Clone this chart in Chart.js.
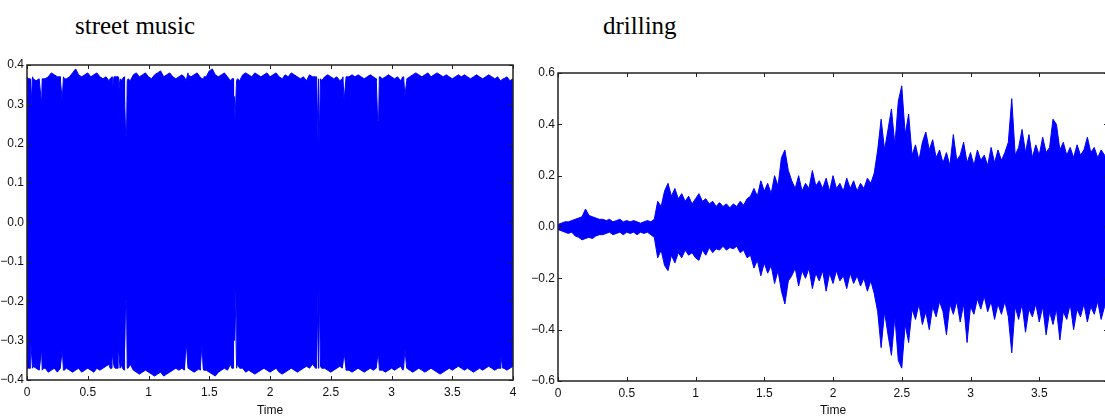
<!DOCTYPE html>
<html>
<head>
<meta charset="utf-8">
<title>street music / drilling</title>
<script src="https://cdn.jsdelivr.net/npm/chart.js@4.4.1/dist/chart.umd.min.js"></script>
<style>
    html, body {
        margin: 0;
        padding: 0;
        background: #fff;
        width: 1105px;
        height: 420px;
        overflow: hidden;
        position: relative;
    }
    .plot-title {
        position: absolute;
        top: 12px;
        font-family: 'Liberation Serif', 'DejaVu Serif', serif;
        font-size: 25px;
        color: #000;
        white-space: nowrap;
    }
    canvas {
        position: absolute;
        top: 50px;
    }
</style>
</head>
<body>
<div class="plot-title" style="left: 75px;">street music</div>
<div class="plot-title" style="left: 603px;">drilling</div>
<canvas id="streetChart" width="540" height="370" style="left: 0px;"></canvas>
<canvas id="drillingChart" width="630" height="370" style="left: 520px;"></canvas>

<script>
// Sample times (seconds), shared by both waveforms
const times = [
    0, 0.025, 0.05, 0.075, 0.1, 0.125, 0.15, 0.175, 0.2, 0.225,
    0.25, 0.275, 0.3, 0.325, 0.35, 0.375, 0.4, 0.425, 0.45, 0.475,
    0.5, 0.525, 0.55, 0.575, 0.6, 0.625, 0.65, 0.675, 0.7, 0.725,
    0.75, 0.775, 0.8, 0.825, 0.85, 0.875, 0.9, 0.925, 0.95, 0.975,
    1, 1.025, 1.05, 1.075, 1.1, 1.125, 1.15, 1.175, 1.2, 1.225,
    1.25, 1.275, 1.3, 1.325, 1.35, 1.375, 1.4, 1.425, 1.45, 1.475,
    1.5, 1.525, 1.55, 1.575, 1.6, 1.625, 1.65, 1.675, 1.7, 1.725,
    1.75, 1.775, 1.8, 1.825, 1.85, 1.875, 1.9, 1.925, 1.95, 1.975,
    2, 2.025, 2.05, 2.075, 2.1, 2.125, 2.15, 2.175, 2.2, 2.225,
    2.25, 2.275, 2.3, 2.325, 2.35, 2.375, 2.4, 2.425, 2.45, 2.475,
    2.5, 2.525, 2.55, 2.575, 2.6, 2.625, 2.65, 2.675, 2.7, 2.725,
    2.75, 2.775, 2.8, 2.825, 2.85, 2.875, 2.9, 2.925, 2.95, 2.975,
    3, 3.025, 3.05, 3.075, 3.1, 3.125, 3.15, 3.175, 3.2, 3.225,
    3.25, 3.275, 3.3, 3.325, 3.35, 3.375, 3.4, 3.425, 3.45, 3.475,
    3.5, 3.525, 3.55, 3.575, 3.6, 3.625, 3.65, 3.675, 3.7, 3.725,
    3.75, 3.775, 3.8, 3.825, 3.85, 3.875, 3.9, 3.925, 3.95, 3.975,
    4
];

// street music - upper / lower envelope on the regular time grid
const streetUpper = [
    0.37, 0.365, 0.365, 0.36, 0.365, 0.365, 0.365, 0.37, 0.38, 0.375,
    0.37, 0.36, 0.37, 0.365, 0.37, 0.38, 0.39, 0.375, 0.37, 0.375,
    0.38, 0.37, 0.375, 0.38, 0.37, 0.365, 0.37, 0.36, 0.37, 0.37,
    0.37, 0.36, 0.37, 0.36, 0.36, 0.375, 0.38, 0.37, 0.375, 0.38,
    0.37, 0.365, 0.375, 0.38, 0.385, 0.37, 0.375, 0.38, 0.37, 0.365,
    0.37, 0.375, 0.37, 0.38, 0.37, 0.375, 0.38, 0.37, 0.365, 0.37,
    0.385, 0.39, 0.375, 0.37, 0.375, 0.38, 0.37, 0.36, 0.365, 0.36,
    0.36, 0.375, 0.38, 0.375, 0.37, 0.38, 0.375, 0.37, 0.375, 0.38,
    0.37, 0.375, 0.38, 0.37, 0.365, 0.375, 0.37, 0.38, 0.375, 0.37,
    0.365, 0.37, 0.36, 0.375, 0.37, 0.37, 0.365, 0.36, 0.37, 0.375,
    0.37, 0.365, 0.37, 0.36, 0.37, 0.365, 0.37, 0.375, 0.37, 0.375,
    0.37, 0.365, 0.37, 0.375, 0.37, 0.36, 0.37, 0.365, 0.37, 0.375,
    0.37, 0.365, 0.37, 0.36, 0.37, 0.36, 0.37, 0.375, 0.38, 0.375,
    0.37, 0.375, 0.38, 0.37, 0.375, 0.38, 0.375, 0.37, 0.375, 0.37,
    0.365, 0.37, 0.375, 0.37, 0.375, 0.37, 0.365, 0.37, 0.375, 0.37,
    0.365, 0.37, 0.375, 0.37, 0.365, 0.37, 0.36, 0.365, 0.37, 0.36,
    0.365
];
const streetLower = [
    -0.37, -0.37, -0.365, -0.37, -0.375, -0.375, -0.37, -0.38, -0.375, -0.37,
    -0.38, -0.37, -0.375, -0.37, -0.375, -0.38, -0.375, -0.37, -0.38, -0.375,
    -0.37, -0.375, -0.38, -0.37, -0.375, -0.37, -0.365, -0.36, -0.37, -0.37,
    -0.37, -0.36, -0.375, -0.37, -0.36, -0.375, -0.38, -0.385, -0.38, -0.375,
    -0.38, -0.385, -0.39, -0.385, -0.38, -0.39, -0.385, -0.38, -0.375, -0.37,
    -0.375, -0.37, -0.375, -0.37, -0.375, -0.38, -0.375, -0.375, -0.37, -0.375,
    -0.38, -0.385, -0.39, -0.38, -0.375, -0.37, -0.375, -0.36, -0.37, -0.37,
    -0.37, -0.37, -0.38, -0.375, -0.38, -0.385, -0.38, -0.375, -0.37, -0.375,
    -0.38, -0.375, -0.37, -0.38, -0.385, -0.38, -0.375, -0.37, -0.375, -0.38,
    -0.375, -0.37, -0.365, -0.37, -0.36, -0.37, -0.37, -0.37, -0.37, -0.375,
    -0.38, -0.375, -0.37, -0.365, -0.37, -0.37, -0.375, -0.38, -0.375, -0.37,
    -0.375, -0.38, -0.375, -0.37, -0.375, -0.37, -0.375, -0.375, -0.38, -0.375,
    -0.37, -0.375, -0.37, -0.365, -0.37, -0.37, -0.375, -0.38, -0.375, -0.37,
    -0.375, -0.38, -0.375, -0.37, -0.375, -0.38, -0.385, -0.38, -0.375, -0.37,
    -0.375, -0.37, -0.365, -0.37, -0.375, -0.37, -0.375, -0.38, -0.375, -0.37,
    -0.375, -0.37, -0.365, -0.37, -0.375, -0.37, -0.37, -0.37, -0.375, -0.37,
    -0.365
];

// street music - short silences (thin dips): shoulder, dip(s), shoulder
const streetDipTimes = [
    0.014, 0.030, 0.046,
    0.104, 0.120, 0.136,
    0.274, 0.290, 0.306,
    0.684, 0.700, 0.716,
    0.734, 0.750, 0.766,
    0.786, 0.800, 0.806, 0.812, 0.819, 0.832,
    1.294, 1.310, 1.326,
    1.424, 1.440, 1.456,
    1.686, 1.700, 1.706, 1.712, 1.719, 1.732,
    2.384, 2.396, 2.404, 2.416,
    2.594, 2.610, 2.626,
    2.874, 2.886, 2.894, 2.906,
    3.094, 3.110, 3.126,
    3.884, 3.900, 3.916
];
const streetDipUpper = [
    0.365, 0.28, 0.37,
    0.365, 0.30, 0.365,
    0.37, 0.31, 0.365,
    0.365, 0.33, 0.37,
    0.37, 0.32, 0.365,
    0.365, 0.30, 0.32, 0.22, 0.22, 0.365,
    0.37, 0.36, 0.375,
    0.37, 0.365, 0.37,
    0.365, 0.30, 0.32, 0.26, 0.26, 0.365,
    0.37, 0.20, 0.20, 0.365,
    0.365, 0.31, 0.37,
    0.365, 0.26, 0.26, 0.37,
    0.37, 0.32, 0.365,
    0.365, 0.36, 0.365
];
const streetDipLower = [
    -0.37, -0.30, -0.37,
    -0.375, -0.32, -0.37,
    -0.37, -0.32, -0.375,
    -0.37, -0.33, -0.365,
    -0.37, -0.31, -0.37,
    -0.37, -0.28, -0.32, -0.20, -0.20, -0.37,
    -0.375, -0.30, -0.37,
    -0.37, -0.31, -0.375,
    -0.37, -0.26, -0.30, -0.17, -0.17, -0.36,
    -0.37, -0.16, -0.16, -0.365,
    -0.37, -0.33, -0.375,
    -0.37, -0.34, -0.34, -0.375,
    -0.375, -0.32, -0.37,
    -0.37, -0.34, -0.37
];

// drilling - upper / lower envelope of the waveform
const drillingUpper = [
    0.01, 0.015, 0.02, 0.02, 0.025, 0.03, 0.035, 0.04, 0.07, 0.045,
    0.04, 0.035, 0.03, 0.03, 0.025, 0.03, 0.02, 0.025, 0.03, 0.02,
    0.025, 0.02, 0.025, 0.02, 0.015, 0.02, 0.025, 0.02, 0.03, 0.10,
    0.08, 0.14, 0.17, 0.12, 0.15, 0.11, 0.13, 0.10, 0.12, 0.09,
    0.11, 0.13, 0.10, 0.11, 0.09, 0.10, 0.08, 0.095, 0.08, 0.09,
    0.075, 0.09, 0.08, 0.10, 0.085, 0.11, 0.12, 0.15, 0.12, 0.18,
    0.14, 0.17, 0.13, 0.20, 0.16, 0.27, 0.30, 0.22, 0.18, 0.15,
    0.20, 0.14, 0.17, 0.15, 0.22, 0.16, 0.18, 0.15, 0.19, 0.14,
    0.20, 0.15, 0.17, 0.14, 0.19, 0.15, 0.18, 0.14, 0.17, 0.15,
    0.19, 0.17, 0.21, 0.30, 0.42, 0.30, 0.38, 0.46, 0.32, 0.49,
    0.55, 0.36, 0.44, 0.28, 0.32, 0.26, 0.33, 0.37, 0.30, 0.34,
    0.27, 0.30, 0.25, 0.29, 0.24, 0.36, 0.26, 0.28, 0.33, 0.25,
    0.29, 0.24, 0.30, 0.26, 0.28, 0.24, 0.31, 0.25, 0.30, 0.26,
    0.29, 0.33, 0.50, 0.28, 0.31, 0.38, 0.29, 0.36, 0.27, 0.32,
    0.28, 0.35, 0.29, 0.31, 0.42, 0.40, 0.30, 0.33, 0.28, 0.31,
    0.27, 0.32, 0.28, 0.30, 0.35, 0.29, 0.31, 0.27, 0.30, 0.28,
    0.27
];
const drillingLower = [
    -0.01, -0.015, -0.02, -0.025, -0.02, -0.035, -0.04, -0.05, -0.045, -0.04,
    -0.045, -0.035, -0.03, -0.03, -0.025, -0.02, -0.03, -0.025, -0.02, -0.03,
    -0.02, -0.025, -0.02, -0.03, -0.02, -0.025, -0.02, -0.03, -0.04, -0.12,
    -0.09, -0.15, -0.17, -0.11, -0.14, -0.10, -0.12, -0.09, -0.11, -0.10,
    -0.12, -0.13, -0.09, -0.11, -0.08, -0.10, -0.085, -0.09, -0.075, -0.09,
    -0.08, -0.085, -0.075, -0.10, -0.09, -0.12, -0.11, -0.16, -0.13, -0.19,
    -0.14, -0.18, -0.15, -0.22, -0.17, -0.25, -0.30, -0.21, -0.19, -0.16,
    -0.23, -0.17, -0.20, -0.16, -0.24, -0.18, -0.21, -0.17, -0.25, -0.18,
    -0.22, -0.17, -0.21, -0.19, -0.24, -0.18, -0.22, -0.19, -0.23, -0.20,
    -0.25, -0.21, -0.26, -0.33, -0.47, -0.33, -0.42, -0.50, -0.35, -0.52,
    -0.55, -0.38, -0.45, -0.32, -0.36, -0.30, -0.38, -0.33, -0.40, -0.31,
    -0.35, -0.29, -0.33, -0.42, -0.30, -0.34, -0.29, -0.37, -0.30, -0.45,
    -0.31, -0.34, -0.28, -0.32, -0.27, -0.33, -0.29, -0.36, -0.30, -0.34,
    -0.29, -0.35, -0.49, -0.31, -0.36, -0.30, -0.41, -0.32, -0.35, -0.30,
    -0.37, -0.31, -0.42, -0.33, -0.38, -0.32, -0.44, -0.33, -0.36, -0.30,
    -0.40, -0.32, -0.35, -0.30, -0.37, -0.31, -0.34, -0.29, -0.36, -0.31,
    -0.30
];

// Tick labels
const timeTicks = [0, 0.5, 1, 1.5, 2, 2.5, 3, 3.5, 4];
const streetYTicks = [-0.4, -0.3, -0.2, -0.1, 0, 0.1, 0.2, 0.3, 0.4];
const drillingYTicks = [-0.6, -0.4, -0.2, 0, 0.2, 0.4, 0.6];

const WAVE_COLOR = '#0000ff';
const TICK_FONT = { family: "'Liberation Sans Narrow', 'Liberation Sans', sans-serif", size: 12 };

/**
 * Draw the closed axes box with inward tick marks (classic matplotlib look)
 */
const framePlugin = {
    id: 'frame',
    afterDatasetsDraw(chart) {
        const { ctx, chartArea: a, scales: { x, y } } = chart;
        ctx.save();
        ctx.strokeStyle = '#222';
        ctx.lineWidth = 1.5;
        ctx.strokeRect(a.left, a.top, a.right - a.left, a.bottom - a.top);

        ctx.lineWidth = 1;
        ctx.beginPath();
        x.ticks.forEach(t => {
            const px = Math.round(x.getPixelForValue(t.value)) + 0.5;
            ctx.moveTo(px, a.bottom);
            ctx.lineTo(px, a.bottom - 4);
            ctx.moveTo(px, a.top);
            ctx.lineTo(px, a.top + 4);
        });
        y.ticks.forEach(t => {
            const py = Math.round(y.getPixelForValue(t.value)) + 0.5;
            ctx.moveTo(a.left, py);
            ctx.lineTo(a.left + 4, py);
            ctx.moveTo(a.right, py);
            ctx.lineTo(a.right - 4, py);
        });
        ctx.stroke();
        ctx.restore();
    }
};

/**
 * Pair the time grid with one series, optionally merged with extra samples
 */
function toPoints(values, extraTimes, extraValues) {
    const pts = values.map((v, i) => ({ x: times[i], y: v }));
    if (extraTimes) {
        extraTimes.forEach((t, i) => pts.push({ x: t, y: extraValues[i] }));
        pts.sort((a, b) => a.x - b.x);
    }
    return pts;
}

function formatY(v) {
    const s = Math.abs(v).toFixed(1);
    return v < -1e-9 ? '\u2212' + s : s;
}

/**
 * Build one waveform chart: the wave is the area between upper and lower envelope
 */
function createWaveChart(canvasId, upperPoints, lowerPoints, yTicks, yRange, box) {
    const ctx = document.getElementById(canvasId);
    const waveStyle = {
        borderColor: WAVE_COLOR,
        backgroundColor: WAVE_COLOR,
        borderWidth: 1,
        pointRadius: 0,
        tension: 0
    };
    return new Chart(ctx, {
        type: 'line',
        data: {
            datasets: [
                Object.assign({ data: upperPoints, fill: '+1' }, waveStyle),
                Object.assign({ data: lowerPoints, fill: false }, waveStyle)
            ]
        },
        options: {
            responsive: false,
            animation: false,
            devicePixelRatio: 1,
            layout: {
                padding: { left: 0, right: box.right, top: box.top, bottom: 0 }
            },
            plugins: {
                legend: { display: false },
                tooltip: { enabled: false }
            },
            scales: {
                x: {
                    type: 'linear',
                    min: 0,
                    max: 4,
                    grid: { display: false, drawTicks: false },
                    border: { display: false },
                    afterBuildTicks: (scale) => {
                        scale.ticks = timeTicks.map(v => ({ value: v }));
                    },
                    afterFit: (scale) => {
                        scale.height = box.xHeight;
                    },
                    ticks: {
                        color: '#111',
                        font: TICK_FONT,
                        padding: 5,
                        maxRotation: 0,
                        autoSkip: false,
                        callback: (v) => String(v)
                    },
                    title: {
                        display: true,
                        text: 'Time',
                        color: '#111',
                        font: TICK_FONT,
                        padding: { top: 4, bottom: 2 }
                    }
                },
                y: {
                    type: 'linear',
                    min: yRange[0],
                    max: yRange[1],
                    grid: { display: false, drawTicks: false },
                    border: { display: false },
                    afterBuildTicks: (scale) => {
                        scale.ticks = yTicks.map(v => ({ value: v }));
                    },
                    afterFit: (scale) => {
                        scale.width = box.yWidth;
                    },
                    ticks: {
                        color: '#111',
                        font: TICK_FONT,
                        padding: 3,
                        autoSkip: false,
                        callback: (v) => formatY(v)
                    }
                }
            }
        },
        plugins: [framePlugin]
    });
}

document.addEventListener('DOMContentLoaded', function() {
    createWaveChart('streetChart',
        toPoints(streetUpper, streetDipTimes, streetDipUpper),
        toPoints(streetLower, streetDipTimes, streetDipLower),
        streetYTicks, [-0.4, 0.4],
        { yWidth: 27, xHeight: 40, top: 15, right: 27 });
    createWaveChart('drillingChart',
        toPoints(drillingUpper),
        toPoints(drillingLower),
        drillingYTicks, [-0.6, 0.6],
        { yWidth: 38, xHeight: 39, top: 23, right: 42 });
});
</script>
</body>
</html>
